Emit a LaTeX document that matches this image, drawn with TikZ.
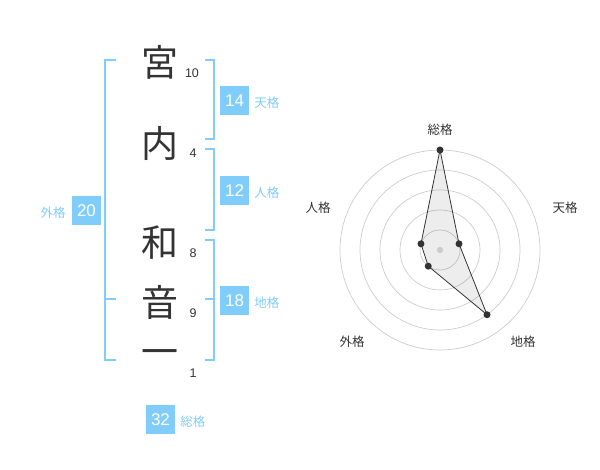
\documentclass[tikz,border=0pt]{standalone}
\usepackage{fontspec}
\usepackage{xcolor}
\setmainfont{Liberation Sans}
\newfontfamily\jpfont{Noto Sans CJK JP}
\usetikzlibrary{positioning}
\definecolor{kakublue}{HTML}{80CCFA}
\definecolor{ink}{HTML}{333333}
\definecolor{ringgray}{HTML}{CCCCCC}

\tikzset{
  kanji/.style={text=ink, inner sep=0pt, font=\fontsize{37}{37}\jpfont},
  strokes/.style={text=ink, inner sep=0pt, font=\fontsize{12.5}{12.5}\selectfont},
  kakubox/.style={fill=kakublue, text=white, minimum size=29pt, inner sep=0pt, font=\fontsize{17}{17}\selectfont},
  kakulabel/.style={text=kakublue, inner sep=0pt, font=\fontsize{12.5}{12.5}\jpfont},
  bracket/.style={draw=kakublue, line width=2pt},
  ring/.style={draw=ringgray, line width=0.7pt},
  axislabel/.style={text=ink, inner sep=0pt, font=\fontsize{12.5}{12.5}\jpfont},
  dot/.style={circle, fill=ink, minimum size=7pt, inner sep=0pt}
}

\begin{document}
\begin{tikzpicture}[x=1pt, y=-1pt]
\useasboundingbox (0,0) rectangle (600,470);
% name, characters and stroke counts
\node[kanji] (k1) at (160,62) {宮};
\node[kanji] (k2) at (160,143) {内};
\node[kanji] (k3) at (160,243) {和};
\node[kanji] (k4) at (160,302) {音};
\node[kanji] (k5) at (160,358) {一};
\node[strokes] (n1) at (192,73) {10};
\node[strokes] (n2) at (193,153) {4};
\node[strokes] (n3) at (193,253) {8};
\node[strokes] (n4) at (193,313) {9};
\node[strokes] (n5) at (193,373) {1};
% brackets
\coordinate (t1) at (205,60);  \coordinate (t2) at (205,139);
\coordinate (j1) at (205,149); \coordinate (j2) at (205,230);
\coordinate (c1) at (205,240); \coordinate (c2) at (205,360); \coordinate (c3) at (205,299);
\coordinate (g1) at (116,60);  \coordinate (g2) at (116,360); \coordinate (g3) at (116,299);
\draw[bracket] (t1) -- ++(9,0) |- (t2);
\draw[bracket] (j1) -- ++(9,0) |- (j2);
\draw[bracket] (c1) -- ++(9,0) |- (c2);
\draw[bracket] (c3) -- ++(9,0);
\draw[bracket] (g1) -- ++(-11,0) |- (g2);
\draw[bracket] (g3) -- ++(-11,0);
% totals
\node[kakubox] (tenbox) at (234.5,100.5) {14};
\node[kakubox] (jinbox) at (234.5,190.5) {12};
\node[kakubox] (chibox) at (234.5,300.5) {18};
\node[kakubox] (gaibox) at (86.5,210.5) {20};
\node[kakubox] (soubox) at (160.5,419.5) {32};
\node[kakulabel, right=5pt of tenbox, yshift=-2pt] (tenlbl) {天格};
\node[kakulabel, right=5pt of jinbox, yshift=-2pt] (jinlbl) {人格};
\node[kakulabel, right=5pt of chibox, yshift=-2pt] (chilbl) {地格};
\node[kakulabel, left=6pt of gaibox, yshift=-2pt] (gailbl) {外格};
\node[kakulabel, right=5pt of soubox, yshift=-2pt] (soulbl) {総格};
% radar chart
\coordinate (radar) at (440,250);
\foreach \r in {20,40,...,100}
  \draw[ring] (radar) circle[radius=\r];
\coordinate (psou) at ([shift={(-90:100)}]radar);
\coordinate (pten) at ([shift={(-18:20)}]radar);
\coordinate (pchi) at ([shift={(54:80)}]radar);
\coordinate (pgai) at ([shift={(126:20)}]radar);
\coordinate (pjin) at ([shift={(-162:20)}]radar);
\draw[draw=ink, line width=0.8pt, fill=black, fill opacity=0.07]
  (psou) -- (pten) -- (pchi) -- (pgai) -- (pjin) -- cycle;
\fill[ringgray] (radar) circle[radius=3.2];
\foreach \p in {psou,pten,pchi,pgai,pjin}
  \node[dot] at (\p) {};
\node[axislabel] (asou) at (440,130) {総格};
\node[axislabel] (aten) at (565,208) {天格};
\node[axislabel] (achi) at (523,342) {地格};
\node[axislabel] (agai) at (352,342) {外格};
\node[axislabel] (ajin) at (318,208) {人格};
\end{tikzpicture}
\end{document}
